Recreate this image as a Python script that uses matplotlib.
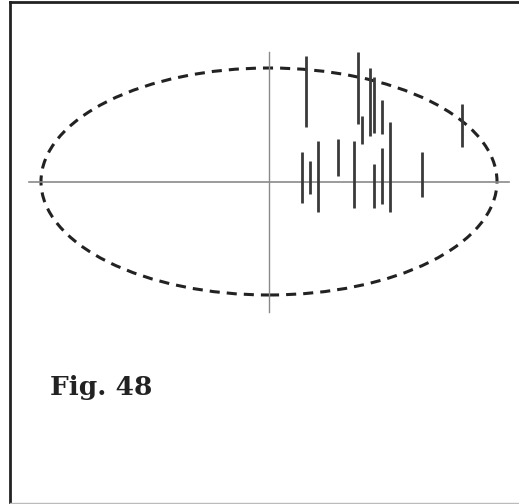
import matplotlib
matplotlib.use('Agg')
import matplotlib.pyplot as plt
from matplotlib.patches import Ellipse
from matplotlib.lines import Line2D

# segment data: x position, top and bottom (offset from the axis crossing)
seg_x = [36.7, 33, 41, 49, 68.7, 85, 89.3, 92.7, 100.7, 105, 105,
         112.7, 112.7, 121.3, 153.3, 193]
seg_top = [125.5, 29.2, 20.8, 40.8, 42.5, 40.8, 129.2, 65.5, 113.2, 104.8,
           17.5, 81.5, 33.2, 59.8, 29.8, 77.5]
seg_bottom = [54.2, -21.8, -12.8, -30.2, 5.5, -26.8, 57.5, 37.2, 45.5, 48.2,
              -26.2, 47.2, -22.8, -30.2, -15.8, 34.2]

# dashed ellipse and axis extents
ell_center = (0, 0)
ell_width = 456
ell_height = 227
h_axis = [-240, 240]
v_axis = [-130.5, 129.5]

label = "Fig. 48"

W, H = 519, 504
fig = plt.figure(figsize=(W / 100, H / 100), dpi=100)
ax = fig.add_axes([0, 0, 1, 1])
ax.set_xlim(-269, W - 269)
ax.set_ylim(181.5 - H, 181.5)
ax.set_axis_off()

ax.plot(h_axis, [0, 0], color='#8a8a8a', lw=1.2)
ax.plot([0, 0], v_axis, color='#8a8a8a', lw=1.0)

ax.add_patch(Ellipse(ell_center, ell_width, ell_height, fill=False,
                     edgecolor='#222222', lw=2.2, linestyle=(0, (3.3, 2.3))))

ax.vlines(seg_x, seg_bottom, seg_top, color='#3a3a3a', lw=2.0)

ax.text(50 - 269, 181.5 - 395, label, fontsize=19, fontweight='bold',
        family=['DejaVu Serif'], color='#222222', va='baseline', ha='left')

# frame
fig.add_artist(Line2D([10 / W, 10 / W], [0, 1 - 2 / H], color='#222222', lw=2))
fig.add_artist(Line2D([10 / W, 1], [1 - 2 / H, 1 - 2 / H], color='#222222', lw=2))
fig.add_artist(Line2D([10 / W, 1], [1 / H, 1 / H], color='#bbbbbb', lw=1))

fig.savefig('out.png', dpi=100)
